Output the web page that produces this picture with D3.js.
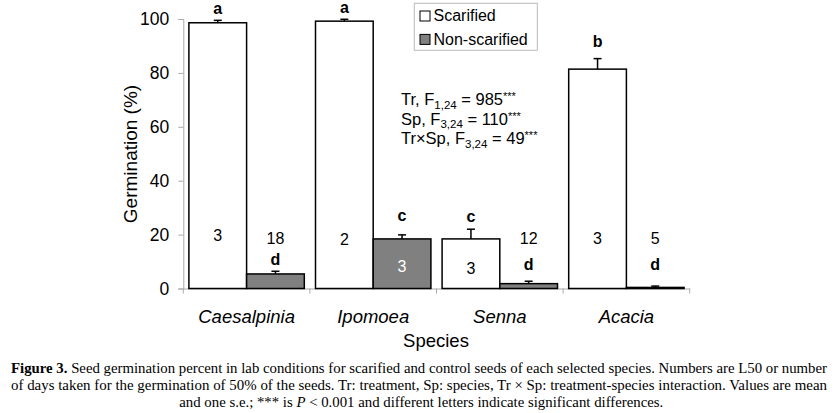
<!DOCTYPE html>
<html>
<head>
<meta charset="utf-8">
<script src="https://cdn.jsdelivr.net/npm/d3@7"></script>
<style>
  body { margin: 0; background: #fff; }
  svg { display: block; }
</style>
</head>
<body>
<svg id="chart" width="835" height="413"></svg>
<script>
// data
var species = ["Caesalpinia", "Ipomoea", "Senna", "Acacia"];
var treatments = ["Scarified", "Non-scarified"];
var scarified = [98.6, 99.2, 18.4, 81.4];
var scarifiedSE = [0.9, 0.7, 3.6, 3.9];
var nonScarified = [5.4, 18.4, 1.8, 0.4];
var nonScarifiedSE = [1.0, 1.5, 0.9, 0.5];
// L50 (days) and significance letters
var l50Scar = ["3", "2", "3", "3"];
var l50Non = ["18", "3", "12", "5"];
var lettersScar = ["a", "a", "c", "b"];
var lettersNon = ["d", "c", "d", "d"];
// where the annotations sit, in % germination
var l50ScarAt = [19.9, 18.3, 7.5, 18.6];
var l50NonAt = [18.5, 8.1, 18.6, 18.6];
var letterScarAt = [104.0, 104.3, 26.9, 91.6];
var letterNonAt = [11.0, 27.3, 9.0, 9.0];
var yTicks = [0, 20, 40, 60, 80, 100];

var svg = d3.select("#chart");
var sans = "Arial, 'Liberation Sans', sans-serif";
var serif = "'Times New Roman', 'Liberation Serif', serif";

var x = d3.scaleBand().domain(species).range([183.3, 689.7]).padding(0);
var xIn = d3.scaleBand().domain(treatments).range([0, x.bandwidth()])
    .paddingInner(0).paddingOuter(0.097);
var y = d3.scaleLinear().domain([0, 100]).range([288.5, 19]);

var rows = species.map(function(s, i) {
    return [
        { sp: s, tr: treatments[0], v: scarified[i], se: scarifiedSE[i],
          l50: l50Scar[i], l50At: l50ScarAt[i], let: lettersScar[i], letAt: letterScarAt[i] },
        { sp: s, tr: treatments[1], v: nonScarified[i], se: nonScarifiedSE[i],
          l50: l50Non[i], l50At: l50NonAt[i], let: lettersNon[i], letAt: letterNonAt[i] }
    ];
});
var flat = [].concat.apply([], rows);
var cx = function(d) { return x(d.sp) + xIn(d.tr) + xIn.bandwidth() / 2; };

// y axis
var yAxis = svg.append("g")
    .attr("transform", "translate(183.3,0)")
    .call(d3.axisLeft(y).tickValues(yTicks).tickSize(5).tickPadding(9));
yAxis.select(".domain").attr("stroke", "#aaa");
yAxis.selectAll(".tick line").attr("stroke", "#aaa");
yAxis.selectAll("text").attr("font-family", sans).attr("font-size", 17.5).attr("fill", "#000");

// x axis: line + boundary ticks, labels from band scale
var xAxis = svg.append("g")
    .attr("transform", "translate(0,288.5)")
    .call(d3.axisBottom(x).tickSize(0).tickPadding(21).tickSizeOuter(0));
xAxis.select(".domain").attr("stroke", "#aaa");
xAxis.selectAll("text").attr("font-family", sans).attr("font-size", 18.5)
    .attr("font-style", "italic").attr("fill", "#000");
svg.append("g").selectAll("line")
    .data(species.concat(["end"]))
    .join("line")
    .attr("x1", function(d, i) { return i < species.length ? x(d) : x.range()[1]; })
    .attr("x2", function(d, i) { return i < species.length ? x(d) : x.range()[1]; })
    .attr("y1", 288.5).attr("y2", 293.5)
    .attr("stroke", "#aaa");

// bars
svg.append("g").selectAll("rect")
    .data(flat)
    .join("rect")
    .attr("x", function(d) { return x(d.sp) + xIn(d.tr); })
    .attr("y", function(d) { return y(d.v); })
    .attr("width", xIn.bandwidth())
    .attr("height", function(d) { return y(0) - y(d.v); })
    .attr("fill", function(d) { return d.tr === "Scarified" ? "#fff" : "#808080"; })
    .attr("stroke", "#000")
    .attr("stroke-width", 1.5);

// error bars (upper only)
var err = svg.append("g").attr("stroke", "#000").attr("stroke-width", 1.5);
err.selectAll("line.v")
    .data(flat)
    .join("line").attr("class", "v")
    .attr("x1", cx).attr("x2", cx)
    .attr("y1", function(d) { return y(d.v); })
    .attr("y2", function(d) { return y(d.v + d.se); });
err.selectAll("line.c")
    .data(flat)
    .join("line").attr("class", "c")
    .attr("x1", function(d) { return cx(d) - 4; })
    .attr("x2", function(d) { return cx(d) + 4; })
    .attr("y1", function(d) { return y(d.v + d.se); })
    .attr("y2", function(d) { return y(d.v + d.se); });

// L50 numbers
svg.append("g").selectAll("text")
    .data(flat)
    .join("text")
    .attr("x", cx)
    .attr("y", function(d) { return y(d.l50At); })
    .attr("dy", "0.36em")
    .attr("text-anchor", "middle")
    .attr("font-family", sans).attr("font-size", 16)
    .attr("fill", function(d) { return d.tr !== "Scarified" && d.v > 15 ? "#fff" : "#000"; })
    .text(function(d) { return d.l50; });

// letters
svg.append("g").selectAll("text")
    .data(flat)
    .join("text")
    .attr("x", cx)
    .attr("y", function(d) { return y(d.letAt); })
    .attr("dy", "0.36em")
    .attr("text-anchor", "middle")
    .attr("font-family", sans).attr("font-size", 16).attr("font-weight", "bold")
    .text(function(d) { return d.let; });

// axis titles
svg.append("text")
    .attr("transform", "translate(136.5,154) rotate(-90)")
    .attr("text-anchor", "middle")
    .attr("font-family", sans).attr("font-size", 19)
    .text("Germination (%)");
svg.append("text")
    .attr("x", 436).attr("y", 346.7)
    .attr("text-anchor", "middle")
    .attr("font-family", sans).attr("font-size", 18.5)
    .text("Species");

// legend
var legend = svg.append("g");
legend.append("rect")
    .attr("x", 414.3).attr("y", 3.3).attr("width", 123).attr("height", 47)
    .attr("fill", "#fff").attr("stroke", "#bbb");
var li = legend.selectAll("g.item")
    .data(treatments)
    .join("g").attr("class", "item")
    .attr("transform", function(d, i) { return "translate(420," + (11 + i * 23.4) + ")"; });
li.append("rect")
    .attr("width", 10).attr("height", 10)
    .attr("fill", function(d) { return d === "Scarified" ? "#fff" : "#808080"; })
    .attr("stroke", "#000");
li.append("text")
    .attr("x", 13.5).attr("y", 10.3)
    .attr("font-family", sans).attr("font-size", 16)
    .text(function(d) { return d; });

// ANOVA results
var stats = [
    { pre: "Tr, F", sub: "1,24", post: " = 985" },
    { pre: "Sp, F", sub: "3,24", post: " = 110" },
    { pre: "Tr\u00d7Sp, F", sub: "3,24", post: " = 49" }
];
var statY = [105, 124.5, 144];
var st = svg.append("g").selectAll("text")
    .data(stats)
    .join("text")
    .attr("x", 401)
    .attr("y", function(d, i) { return statY[i]; })
    .attr("font-family", sans).attr("font-size", 16.5);
st.append("tspan").text(function(d) { return d.pre; });
st.append("tspan").attr("font-size", 11.5).attr("dy", 3.5).text(function(d) { return d.sub; });
st.append("tspan").attr("dy", -3.5).text(function(d) { return d.post; });
st.append("tspan").attr("font-size", 11).attr("dy", -5).text("***");

// caption
var cap = svg.append("g").attr("font-family", serif).attr("font-size", 14.3);
var c1 = cap.append("text").attr("x", 11).attr("y", 373.3)
    .attr("textLength", 816).attr("lengthAdjust", "spacingAndGlyphs");
c1.append("tspan").attr("font-weight", "bold").text("Figure 3.");
c1.append("tspan").text(" Seed germination percent in lab conditions for scarified and control seeds of each selected species. Numbers are L50 or number");
cap.append("text").attr("x", 11).attr("y", 390)
    .attr("textLength", 816).attr("lengthAdjust", "spacingAndGlyphs")
    .text("of days taken for the germination of 50% of the seeds. Tr: treatment, Sp: species, Tr \u00d7 Sp: treatment-species interaction. Values are mean");
var c3 = cap.append("text").attr("x", 179.3).attr("y", 406.7)
    .attr("textLength", 484).attr("lengthAdjust", "spacingAndGlyphs");
c3.append("tspan").text("and one s.e.; *** is ");
c3.append("tspan").attr("font-style", "italic").text("P");
c3.append("tspan").text(" < 0.001 and different letters indicate significant differences.");
</script>
</body>
</html>
